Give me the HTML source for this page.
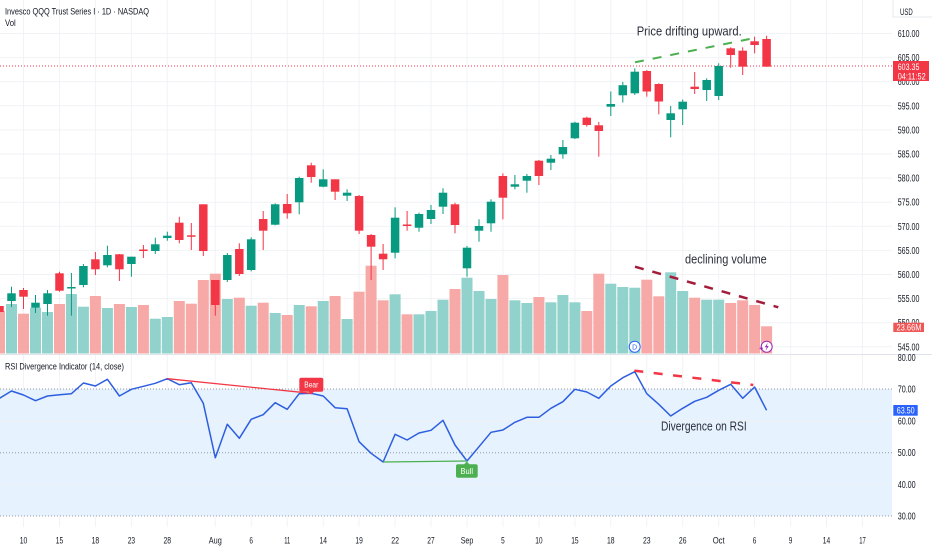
<!DOCTYPE html>
<html>
<head>
<meta charset="utf-8">
<style>
html,body{margin:0;padding:0;background:#fff;}
svg{display:block;}
text{font-family:"Liberation Sans",sans-serif;}
</style>
</head>
<body>
<svg width="932" height="550" viewBox="0 0 932 550" xmlns="http://www.w3.org/2000/svg">
<rect x="0" y="0" width="932" height="550" fill="#ffffff"/>

<!-- vertical grid -->
<g stroke="#f2f3f6" stroke-width="1">
<line x1="23.5" y1="0" x2="23.5" y2="527"/><line x1="59.5" y1="0" x2="59.5" y2="527"/><line x1="95.4" y1="0" x2="95.4" y2="527"/><line x1="131.4" y1="0" x2="131.4" y2="527"/><line x1="167.3" y1="0" x2="167.3" y2="527"/><line x1="215.3" y1="0" x2="215.3" y2="527"/><line x1="251.2" y1="0" x2="251.2" y2="527"/><line x1="287.2" y1="0" x2="287.2" y2="527"/><line x1="323.2" y1="0" x2="323.2" y2="527"/><line x1="359.1" y1="0" x2="359.1" y2="527"/><line x1="395.1" y1="0" x2="395.1" y2="527"/><line x1="431" y1="0" x2="431" y2="527"/><line x1="467" y1="0" x2="467" y2="527"/><line x1="502.9" y1="0" x2="502.9" y2="527"/><line x1="538.9" y1="0" x2="538.9" y2="527"/><line x1="574.9" y1="0" x2="574.9" y2="527"/><line x1="610.8" y1="0" x2="610.8" y2="527"/><line x1="646.8" y1="0" x2="646.8" y2="527"/><line x1="682.7" y1="0" x2="682.7" y2="527"/><line x1="718.7" y1="0" x2="718.7" y2="527"/><line x1="754.6" y1="0" x2="754.6" y2="527"/><line x1="790.6" y1="0" x2="790.6" y2="527"/><line x1="826.5" y1="0" x2="826.5" y2="527"/><line x1="862.5" y1="0" x2="862.5" y2="527"/>
</g>
<!-- horizontal grid price -->
<g stroke="#f0f2f5" stroke-width="1">
<line x1="0" y1="33.5" x2="892" y2="33.5"/><line x1="0" y1="57.6" x2="892" y2="57.6"/><line x1="0" y1="81.7" x2="892" y2="81.7"/><line x1="0" y1="105.8" x2="892" y2="105.8"/><line x1="0" y1="129.9" x2="892" y2="129.9"/><line x1="0" y1="154" x2="892" y2="154"/><line x1="0" y1="178.1" x2="892" y2="178.1"/><line x1="0" y1="202.2" x2="892" y2="202.2"/><line x1="0" y1="226.3" x2="892" y2="226.3"/><line x1="0" y1="250.4" x2="892" y2="250.4"/><line x1="0" y1="274.5" x2="892" y2="274.5"/><line x1="0" y1="298.6" x2="892" y2="298.6"/><line x1="0" y1="322.7" x2="892" y2="322.7"/><line x1="0" y1="346.8" x2="892" y2="346.8"/>
</g>

<!-- current price line -->
<line x1="0" y1="66" x2="892" y2="66" stroke="#f23645" stroke-width="1" stroke-dasharray="1 2"/>

<!-- volume green -->
<g fill="#92d2cc">
<rect x="6" y="304" width="11" height="49.5"/><rect x="30" y="307.7" width="11" height="45.8"/><rect x="42" y="312" width="11" height="41.5"/><rect x="65.9" y="294" width="11" height="59.5"/><rect x="77.9" y="306.7" width="11" height="46.8"/><rect x="101.9" y="308" width="11" height="45.5"/><rect x="125.9" y="307" width="11" height="46.5"/><rect x="149.8" y="318.7" width="11" height="34.8"/><rect x="161.8" y="317" width="11" height="36.5"/><rect x="221.8" y="299" width="11" height="54.5"/><rect x="245.7" y="305.7" width="11" height="47.8"/><rect x="269.7" y="313" width="11" height="40.5"/><rect x="293.7" y="305" width="11" height="48.5"/><rect x="317.7" y="301" width="11" height="52.5"/><rect x="341.6" y="319" width="11" height="34.5"/><rect x="389.6" y="294.3" width="11" height="59.2"/><rect x="413.5" y="314.3" width="11" height="39.2"/><rect x="425.5" y="311" width="11" height="42.5"/><rect x="437.5" y="299.7" width="11" height="53.8"/><rect x="461.5" y="277.7" width="11" height="75.8"/><rect x="473.5" y="291" width="11" height="62.5"/><rect x="485.5" y="299" width="11" height="54.5"/><rect x="509.4" y="300.3" width="11" height="53.2"/><rect x="521.4" y="303" width="11" height="50.5"/><rect x="545.4" y="302.3" width="11" height="51.2"/><rect x="557.4" y="295" width="11" height="58.5"/><rect x="569.4" y="302.3" width="11" height="51.2"/><rect x="605.3" y="283.7" width="11" height="69.8"/><rect x="617.3" y="287" width="11" height="66.5"/><rect x="629.3" y="287.7" width="11" height="65.8"/><rect x="665.2" y="272.3" width="11" height="81.2"/><rect x="677.2" y="291" width="11" height="62.5"/><rect x="701.2" y="299.7" width="11" height="53.8"/><rect x="713.2" y="299.7" width="11" height="53.8"/>
</g>
<!-- volume red -->
<g fill="#f7a9a7">
<rect x="-6" y="311" width="11" height="42.5"/><rect x="18" y="313.7" width="11" height="39.8"/><rect x="54" y="304" width="11" height="49.5"/><rect x="89.9" y="296" width="11" height="57.5"/><rect x="113.9" y="304" width="11" height="49.5"/><rect x="137.9" y="305" width="11" height="48.5"/><rect x="173.8" y="301" width="11" height="52.5"/><rect x="185.8" y="303.7" width="11" height="49.8"/><rect x="197.8" y="280" width="11" height="73.5"/><rect x="209.8" y="273.7" width="11" height="79.8"/><rect x="233.8" y="297.7" width="11" height="55.8"/><rect x="257.7" y="302.7" width="11" height="50.8"/><rect x="281.7" y="315" width="11" height="38.5"/><rect x="305.7" y="306.3" width="11" height="47.2"/><rect x="329.6" y="296" width="11" height="57.5"/><rect x="353.6" y="291.7" width="11" height="61.8"/><rect x="365.6" y="265.7" width="11" height="87.8"/><rect x="377.6" y="300.3" width="11" height="53.2"/><rect x="401.6" y="314.3" width="11" height="39.2"/><rect x="449.5" y="289" width="11" height="64.5"/><rect x="497.4" y="275" width="11" height="78.5"/><rect x="533.4" y="297" width="11" height="56.5"/><rect x="581.3" y="311" width="11" height="42.5"/><rect x="593.3" y="273.7" width="11" height="79.8"/><rect x="641.3" y="279.7" width="11" height="73.8"/><rect x="653.3" y="296.3" width="11" height="57.2"/><rect x="689.2" y="297.7" width="11" height="55.8"/><rect x="725.2" y="303" width="11" height="50.5"/><rect x="737.2" y="300.3" width="11" height="53.2"/><rect x="749.1" y="305" width="11" height="48.5"/><rect x="761.1" y="326.3" width="11" height="27.2"/>
</g>

<!-- candles green -->
<g fill="#089981">
<rect x="11" y="286.7" width="1" height="20.3"/><rect x="7.25" y="293.3" width="8.5" height="7.7"/>
<rect x="35" y="295" width="1" height="18"/><rect x="31.25" y="302.7" width="8.5" height="5"/>
<rect x="47" y="290" width="1" height="25.7"/><rect x="43.25" y="293.3" width="8.5" height="10.7"/>
<rect x="70.9" y="273" width="1" height="42.7"/><rect x="67.15" y="287" width="8.5" height="1.5"/>
<rect x="82.9" y="264" width="1" height="23.3"/><rect x="79.15" y="266" width="8.5" height="19"/>
<rect x="106.9" y="245.7" width="1" height="21.6"/><rect x="103.15" y="255" width="8.5" height="10.3"/>
<rect x="130.9" y="256.7" width="1" height="20"/><rect x="127.15" y="256.7" width="8.5" height="7.3"/>
<rect x="154.8" y="237.7" width="1" height="16.3"/><rect x="151.05" y="244.3" width="8.5" height="6.7"/>
<rect x="166.8" y="231.7" width="1" height="9"/><rect x="163.05" y="235.7" width="8.5" height="2.3"/>
<rect x="226.8" y="253" width="1" height="29"/><rect x="223.05" y="255" width="8.5" height="25"/>
<rect x="250.7" y="237.3" width="1" height="34"/><rect x="246.95" y="239.3" width="8.5" height="30.7"/>
<rect x="274.7" y="203.3" width="1" height="22"/><rect x="270.95" y="204.3" width="8.5" height="20.4"/>
<rect x="298.7" y="176.7" width="1" height="37.6"/><rect x="294.95" y="178" width="8.5" height="24.3"/>
<rect x="322.7" y="169.3" width="1" height="18"/><rect x="318.95" y="179.3" width="8.5" height="7.4"/>
<rect x="346.6" y="189.3" width="1" height="11.7"/><rect x="342.85" y="192.7" width="8.5" height="3"/>
<rect x="394.6" y="207.3" width="1" height="51"/><rect x="390.85" y="217.7" width="8.5" height="35"/>
<rect x="418.5" y="212.7" width="1" height="19"/><rect x="414.75" y="214" width="8.5" height="13.7"/>
<rect x="430.5" y="205" width="1" height="19"/><rect x="426.75" y="210" width="8.5" height="9"/>
<rect x="442.5" y="188.3" width="1" height="25.7"/><rect x="438.75" y="192.7" width="8.5" height="14"/>
<rect x="466.5" y="246" width="1" height="30.7"/><rect x="462.75" y="247.7" width="8.5" height="20.6"/>
<rect x="478.5" y="219.3" width="1" height="22.4"/><rect x="474.75" y="226" width="8.5" height="4.7"/>
<rect x="490.5" y="199.3" width="1" height="32.4"/><rect x="486.75" y="201.7" width="8.5" height="21.6"/>
<rect x="514.4" y="175" width="1" height="14.3"/><rect x="510.65" y="184.3" width="8.5" height="2.4"/>
<rect x="526.4" y="174" width="1" height="18.7"/><rect x="522.65" y="176" width="8.5" height="4.7"/>
<rect x="550.4" y="155" width="1" height="15"/><rect x="546.65" y="158.7" width="8.5" height="4"/>
<rect x="562.4" y="140" width="1" height="18.7"/><rect x="558.65" y="147" width="8.5" height="7.3"/>
<rect x="574.4" y="121.7" width="1" height="17.3"/><rect x="570.65" y="122.7" width="8.5" height="15.6"/>
<rect x="610.3" y="91.5" width="1" height="24.5"/><rect x="606.55" y="104" width="8.5" height="2.7"/>
<rect x="622.3" y="82" width="1" height="20.5"/><rect x="618.55" y="85.2" width="8.5" height="10.1"/>
<rect x="634.3" y="68.3" width="1" height="26.7"/><rect x="630.55" y="71.7" width="8.5" height="21.6"/>
<rect x="670.2" y="106" width="1" height="31.3"/><rect x="666.45" y="113.3" width="8.5" height="6.7"/>
<rect x="682.2" y="99.5" width="1" height="25.5"/><rect x="678.45" y="101.7" width="8.5" height="7.6"/>
<rect x="706.2" y="78.3" width="1" height="22.7"/><rect x="702.45" y="80" width="8.5" height="10"/>
<rect x="718.2" y="63.3" width="1" height="36.7"/><rect x="714.45" y="66" width="8.5" height="30"/>
</g>
<!-- candles red -->
<g fill="#f23645">
<rect x="-1" y="303" width="1" height="11"/><rect x="-4.75" y="306" width="8.5" height="6"/>
<rect x="23" y="288" width="1" height="21"/><rect x="19.25" y="290" width="8.5" height="6.7"/>
<rect x="59" y="271.7" width="1" height="20"/><rect x="55.25" y="273.3" width="8.5" height="17.4"/>
<rect x="94.9" y="252" width="1" height="23"/><rect x="91.15" y="259.3" width="8.5" height="10"/>
<rect x="118.9" y="254" width="1" height="27"/><rect x="115.15" y="254.3" width="8.5" height="15"/>
<rect x="142.9" y="245" width="1" height="13"/><rect x="139.15" y="249.5" width="8.5" height="1.5"/>
<rect x="178.8" y="216.7" width="1" height="26.6"/><rect x="175.05" y="222.7" width="8.5" height="17.3"/>
<rect x="190.8" y="223" width="1" height="27"/><rect x="187.05" y="235.3" width="8.5" height="1.5"/>
<rect x="202.8" y="204.3" width="1" height="51.7"/><rect x="199.05" y="204.3" width="8.5" height="46.7"/>
<rect x="214.8" y="280" width="1" height="35.7"/><rect x="211.05" y="280" width="8.5" height="25"/>
<rect x="238.8" y="243.3" width="1" height="32.7"/><rect x="235.05" y="249" width="8.5" height="25"/>
<rect x="262.7" y="211" width="1" height="39"/><rect x="258.95" y="219" width="8.5" height="11.7"/>
<rect x="286.7" y="194" width="1" height="24.7"/><rect x="282.95" y="204" width="8.5" height="9.3"/>
<rect x="310.7" y="162.7" width="1" height="20"/><rect x="306.95" y="165.3" width="8.5" height="11.7"/>
<rect x="334.6" y="179.3" width="1" height="20.7"/><rect x="330.85" y="179.3" width="8.5" height="12.4"/>
<rect x="358.6" y="195" width="1" height="39"/><rect x="354.85" y="196" width="8.5" height="34.7"/>
<rect x="370.6" y="234" width="1" height="46"/><rect x="366.85" y="235" width="8.5" height="11.7"/>
<rect x="382.6" y="244" width="1" height="26"/><rect x="378.85" y="253.7" width="8.5" height="5.6"/>
<rect x="406.6" y="211" width="1" height="19.7"/><rect x="402.85" y="224.5" width="8.5" height="1.5"/>
<rect x="454.5" y="202.7" width="1" height="30.6"/><rect x="450.75" y="204.3" width="8.5" height="20.7"/>
<rect x="502.4" y="173.3" width="1" height="46"/><rect x="498.65" y="176" width="8.5" height="21.7"/>
<rect x="538.4" y="160" width="1" height="25"/><rect x="534.65" y="160.7" width="8.5" height="15.3"/>
<rect x="586.3" y="116.7" width="1" height="10"/><rect x="582.55" y="117.7" width="8.5" height="7.3"/>
<rect x="598.3" y="122" width="1" height="34.7"/><rect x="594.55" y="125.3" width="8.5" height="5.7"/>
<rect x="646.3" y="70" width="1" height="26.7"/><rect x="642.55" y="71" width="8.5" height="20.5"/>
<rect x="658.3" y="83.3" width="1" height="31"/><rect x="654.55" y="84" width="8.5" height="17.5"/>
<rect x="694.2" y="72" width="1" height="22"/><rect x="690.45" y="86.7" width="8.5" height="2.3"/>
<rect x="730.2" y="47.3" width="1" height="20.4"/><rect x="726.45" y="48.3" width="8.5" height="6.7"/>
<rect x="742.2" y="47.3" width="1" height="27.7"/><rect x="738.45" y="50.7" width="8.5" height="16"/>
<rect x="754.1" y="36.7" width="1" height="16.6"/><rect x="750.35" y="41.3" width="8.5" height="3.7"/>
<rect x="766.1" y="35.7" width="1" height="31"/><rect x="762.35" y="39" width="8.5" height="27.7"/>
</g>

<!-- price annotations -->
<line x1="635" y1="62.3" x2="753" y2="38.3" stroke="#4caf50" stroke-width="2" stroke-dasharray="9 9"/>
<text x="636.7" y="35.5" font-size="12.5" fill="#2a2e39" textLength="105" lengthAdjust="spacingAndGlyphs">Price drifting upward.</text>
<line x1="635" y1="266.7" x2="778.3" y2="307.3" stroke="#a31d3b" stroke-width="2.5" stroke-dasharray="9 9"/>
<text x="685" y="263.5" font-size="12.5" fill="#2a2e39" textLength="81.7" lengthAdjust="spacingAndGlyphs">declining volume</text>

<!-- icons -->
<circle cx="634.7" cy="346.7" r="5.5" fill="#ffffff" stroke="#2962ff" stroke-width="1"/>
<text x="634.7" y="349.4" font-size="7" fill="#2962ff" text-anchor="middle">D</text>
<circle cx="766.7" cy="346.7" r="5.5" fill="#ffffff" stroke="#9c27b0" stroke-width="1"/>
<polygon points="767.8,342.5 764.8,347.2 766.8,347.2 765.6,351 768.7,346 766.7,346" fill="#9c27b0"/>
<path d="M759.5 348.3 h3.4 M761.2 346.6 v3.4" stroke="#9c27b0" stroke-width="1"/>

<!-- header -->
<text x="5" y="14.5" font-size="9" fill="#131722" textLength="144" lengthAdjust="spacingAndGlyphs">Invesco QQQ Trust Series I · 1D · NASDAQ</text>
<text x="5" y="26" font-size="9" fill="#131722" textLength="10.7" lengthAdjust="spacingAndGlyphs">Vol</text>

<!-- pane separator -->
<line x1="0" y1="354.5" x2="932" y2="354.5" stroke="#e0e3eb" stroke-width="1"/>

<!-- RSI pane -->
<rect x="0" y="389" width="892" height="127" fill="#e6f2fd"/>
<g stroke="#eef0f4" stroke-width="1">
<line x1="0" y1="421" x2="892" y2="421"/><line x1="0" y1="484.7" x2="892" y2="484.7"/>
</g>
<g stroke="#9598a1" stroke-width="1" stroke-dasharray="1 2">
<line x1="0" y1="389" x2="892" y2="389"/><line x1="0" y1="452.7" x2="892" y2="452.7"/><line x1="0" y1="516" x2="892" y2="516"/>
</g>
<text x="5" y="369.5" font-size="9" fill="#131722" textLength="119" lengthAdjust="spacingAndGlyphs">RSI Divergence Indicator (14, close)</text>

<polyline fill="none" stroke="#2e5ee0" stroke-width="1.5" stroke-linejoin="round" points="-0.5,398.3 11.5,391 23.5,395 35.5,400.7 47.5,396 59.5,394.7 71.4,393.7 83.4,383 95.4,386 107.4,379.3 119.4,396 131.4,389.3 143.4,386.3 155.3,383.3 167.3,378.7 179.3,384.7 191.3,382.7 203.3,403.3 215.3,457.7 227.3,424.3 239.3,438.3 251.2,419.3 263.2,414.7 275.2,402.7 287.2,409.3 299.2,393.7 311.2,393.3 323.2,396 335.1,407.7 347.1,408.7 359.1,441.7 371.1,453.3 383.1,462 395.1,434.3 407.1,440 419,433 431,430.3 443,420.3 455,445 467,461 479,446.7 491,432.3 502.9,430 514.9,422.3 526.9,417.3 538.9,417.3 550.9,408.3 562.9,401.7 574.9,389.3 586.8,392 598.8,398.3 610.8,386 622.8,377.7 634.8,371.7 646.8,393.7 658.8,404.3 670.7,416 682.7,408.3 694.7,401.3 706.7,397.3 718.7,390.3 730.7,384.3 742.7,398.3 754.6,387 766.6,410.3"/>

<!-- bear divergence -->
<line x1="167.3" y1="378.7" x2="311.2" y2="393.3" stroke="#f23645" stroke-width="1.3"/>
<rect x="299.3" y="377.7" width="24" height="14" rx="2" fill="#f23645"/>
<polygon points="308.5,391.5 314.1,391.5 311.3,394.5" fill="#f23645"/>
<text x="311.3" y="387.4" font-size="8" fill="#ffffff" text-anchor="middle" textLength="14" lengthAdjust="spacingAndGlyphs">Bear</text>
<!-- bull divergence -->
<line x1="383.1" y1="462" x2="467" y2="461" stroke="#4caf50" stroke-width="1.3"/>
<rect x="456" y="464.3" width="21.7" height="13.4" rx="2" fill="#4caf50"/>
<polygon points="464,464.5 469.6,464.5 466.8,461.5" fill="#4caf50"/>
<text x="466.8" y="473.8" font-size="8" fill="#ffffff" text-anchor="middle" textLength="12.5" lengthAdjust="spacingAndGlyphs">Bull</text>

<!-- RSI divergence dashed -->
<line x1="634.3" y1="370.7" x2="753.3" y2="385" stroke="#f23645" stroke-width="2.5" stroke-dasharray="9 10.5"/>
<text x="661" y="430.5" font-size="12.5" fill="#2a2e39" textLength="85.7" lengthAdjust="spacingAndGlyphs">Divergence on RSI</text>

<!-- price axis -->
<rect x="893" y="0" width="39" height="354" fill="#ffffff"/>
<rect x="893" y="355" width="39" height="172" fill="#ffffff"/>
<line x1="893" y1="0" x2="893" y2="17" stroke="#e6e8ee" stroke-width="1"/>
<line x1="893" y1="17" x2="932" y2="17" stroke="#e6e8ee" stroke-width="1"/>
<text x="900" y="15" font-size="9.5" fill="#131722" textLength="12.7" lengthAdjust="spacingAndGlyphs">USD</text>
<g font-size="10" fill="#131722">
<text x="897.7" y="37" textLength="21.7" lengthAdjust="spacingAndGlyphs">610.00</text>
<text x="897.7" y="61.1" textLength="21.7" lengthAdjust="spacingAndGlyphs">605.00</text>
<text x="897.7" y="85.2" textLength="21.7" lengthAdjust="spacingAndGlyphs">600.00</text>
<text x="897.7" y="109.3" textLength="21.7" lengthAdjust="spacingAndGlyphs">595.00</text>
<text x="897.7" y="133.4" textLength="21.7" lengthAdjust="spacingAndGlyphs">590.00</text>
<text x="897.7" y="157.5" textLength="21.7" lengthAdjust="spacingAndGlyphs">585.00</text>
<text x="897.7" y="181.6" textLength="21.7" lengthAdjust="spacingAndGlyphs">580.00</text>
<text x="897.7" y="205.7" textLength="21.7" lengthAdjust="spacingAndGlyphs">575.00</text>
<text x="897.7" y="229.8" textLength="21.7" lengthAdjust="spacingAndGlyphs">570.00</text>
<text x="897.7" y="253.9" textLength="21.7" lengthAdjust="spacingAndGlyphs">565.00</text>
<text x="897.7" y="278" textLength="21.7" lengthAdjust="spacingAndGlyphs">560.00</text>
<text x="897.7" y="302.1" textLength="21.7" lengthAdjust="spacingAndGlyphs">555.00</text>
<text x="897.7" y="326.2" textLength="21.7" lengthAdjust="spacingAndGlyphs">550.00</text>
<text x="897.7" y="350.3" textLength="21.7" lengthAdjust="spacingAndGlyphs">545.00</text>
<text x="897.7" y="361" textLength="18" lengthAdjust="spacingAndGlyphs">80.00</text>
<text x="897.7" y="392.5" textLength="18" lengthAdjust="spacingAndGlyphs">70.00</text>
<text x="897.7" y="424.5" textLength="18" lengthAdjust="spacingAndGlyphs">60.00</text>
<text x="897.7" y="456.2" textLength="18" lengthAdjust="spacingAndGlyphs">50.00</text>
<text x="897.7" y="488.2" textLength="18" lengthAdjust="spacingAndGlyphs">40.00</text>
<text x="897.7" y="519.5" textLength="18" lengthAdjust="spacingAndGlyphs">30.00</text>
</g>

<!-- price tag -->
<rect x="893" y="61" width="36" height="20" fill="#f23645"/>
<text x="897.7" y="70" font-size="9.5" fill="#ffffff" textLength="21.7" lengthAdjust="spacingAndGlyphs">603.35</text>
<text x="897.7" y="79.3" font-size="9.5" fill="#ffffff" textLength="28" lengthAdjust="spacingAndGlyphs">04:11:52</text>
<!-- volume tag -->
<rect x="893.3" y="322.7" width="30.7" height="9.3" fill="#f05656"/>
<text x="896.5" y="330.6" font-size="9.5" fill="#ffffff" textLength="25" lengthAdjust="spacingAndGlyphs">23.66M</text>
<!-- RSI tag -->
<rect x="893.3" y="405" width="24.4" height="10.7" fill="#2962ff"/>
<text x="896.7" y="413.7" font-size="9.5" fill="#ffffff" textLength="18" lengthAdjust="spacingAndGlyphs">63.50</text>

<!-- time axis -->
<g font-size="9" fill="#131722" text-anchor="middle">
<text x="23.5" y="543.5" textLength="7.6" lengthAdjust="spacingAndGlyphs">10</text>
<text x="59.5" y="543.5" textLength="7.4" lengthAdjust="spacingAndGlyphs">15</text>
<text x="95.4" y="543.5" textLength="7.6" lengthAdjust="spacingAndGlyphs">18</text>
<text x="131.4" y="543.5" textLength="7.4" lengthAdjust="spacingAndGlyphs">23</text>
<text x="167.3" y="543.5" textLength="7.6" lengthAdjust="spacingAndGlyphs">28</text>
<text x="215.3" y="543.5" textLength="13" lengthAdjust="spacingAndGlyphs">Aug</text>
<text x="251.2" y="543.5" textLength="3.6" lengthAdjust="spacingAndGlyphs">6</text>
<text x="287.2" y="543.5" textLength="6" lengthAdjust="spacingAndGlyphs">11</text>
<text x="323.2" y="543.5" textLength="7.4" lengthAdjust="spacingAndGlyphs">14</text>
<text x="359.1" y="543.5" textLength="7.4" lengthAdjust="spacingAndGlyphs">19</text>
<text x="395.1" y="543.5" textLength="7.8" lengthAdjust="spacingAndGlyphs">22</text>
<text x="431" y="543.5" textLength="7.4" lengthAdjust="spacingAndGlyphs">27</text>
<text x="467" y="543.5" textLength="12.5" lengthAdjust="spacingAndGlyphs">Sep</text>
<text x="502.9" y="543.5" textLength="3.6" lengthAdjust="spacingAndGlyphs">5</text>
<text x="538.9" y="543.5" textLength="7.4" lengthAdjust="spacingAndGlyphs">10</text>
<text x="574.9" y="543.5" textLength="7.4" lengthAdjust="spacingAndGlyphs">15</text>
<text x="610.8" y="543.5" textLength="7.6" lengthAdjust="spacingAndGlyphs">18</text>
<text x="646.8" y="543.5" textLength="7.6" lengthAdjust="spacingAndGlyphs">23</text>
<text x="682.7" y="543.5" textLength="7.6" lengthAdjust="spacingAndGlyphs">26</text>
<text x="718.7" y="543.5" textLength="12" lengthAdjust="spacingAndGlyphs">Oct</text>
<text x="754.6" y="543.5" textLength="3.6" lengthAdjust="spacingAndGlyphs">6</text>
<text x="790.6" y="543.5" textLength="3.6" lengthAdjust="spacingAndGlyphs">9</text>
<text x="826.5" y="543.5" textLength="7.4" lengthAdjust="spacingAndGlyphs">14</text>
<text x="862.5" y="543.5" textLength="6.6" lengthAdjust="spacingAndGlyphs">17</text>
</g>
</svg>
</body>
</html>
